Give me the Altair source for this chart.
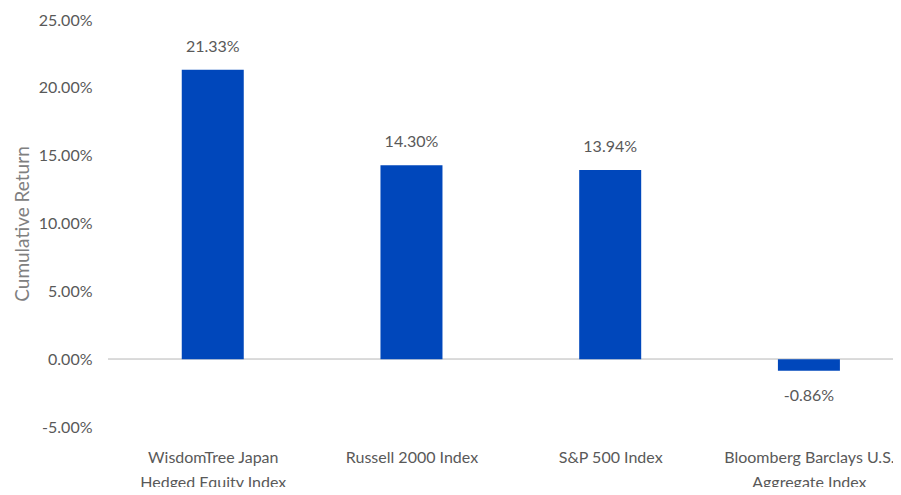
import altair as alt
import pandas as pd

categories = ["WisdomTree Japan|Hedged Equity Index", "Russell 2000 Index",
              "S&P 500 Index", "Bloomberg Barclays U.S.|Aggregate Index"]
values = [21.33, 14.30, 13.94, -0.86]
labels = ["21.33%", "14.30%", "13.94%", "-0.86%"]
y_ticks = [-5, 0, 5, 10, 15, 20, 25]

df = pd.DataFrame({"idx": list(range(len(categories))), "cat": categories,
                   "value": values, "label": labels})

FONT = "Lato"
BLUE = "#0047BB"
GREY = "#595959"

label_expr = "split(" + str(categories) + "[datum.value], '|')"

x = alt.X("idx:Q", scale=alt.Scale(domain=[-0.502, 3.398], nice=False, zero=False),
          axis=alt.Axis(values=[0, 1, 2, 3], labelExpr=label_expr, title=None,
                        domain=False, ticks=False, grid=False, labelPadding=22,
                        labelLineHeight=25, labelFontSize=16, labelColor=GREY,
                        labelFont=FONT, labelBaseline="top"))
y = alt.Y("value:Q", scale=alt.Scale(domain=[-5, 25], nice=False),
          axis=alt.Axis(values=y_ticks, labelExpr="datum.value + '.00%'",
                        title="Cumulative Return", titleFontSize=19,
                        titleFontWeight="normal", titleColor="#808080",
                        titleFont=FONT, titlePadding=6,
                        domain=False, ticks=False, grid=False, labelPadding=16,
                        labelFontSize=16, labelColor=GREY, labelFont=FONT))

base = alt.Chart(df)
bars = base.mark_bar(color=BLUE, size=62).encode(x=x, y=y)
zero = base.mark_rule(color="#d9d9d9", strokeWidth=1.2).encode(
    y=alt.datum(0), x=alt.value(0), x2=alt.value(785))
pos = base.transform_filter("datum.value >= 0").mark_text(
    baseline="bottom", dy=-15, fontSize=16, color=GREY, font=FONT).encode(
    x="idx:Q", y="value:Q", text="label:N")
neg = base.transform_filter("datum.value < 0").mark_text(
    baseline="top", dy=17, fontSize=16, color=GREY, font=FONT).encode(
    x="idx:Q", y="value:Q", text="label:N")

chart = alt.layer(zero, bars, pos, neg).properties(
    width=785, height=407,
    autosize=alt.AutoSizeParams(type="none"),
    padding={"left": 100, "top": 12, "right": 0, "bottom": 60},
).configure_view(stroke=None)

chart.save("out.html", embed_options={"renderer": "svg", "actions": False})
